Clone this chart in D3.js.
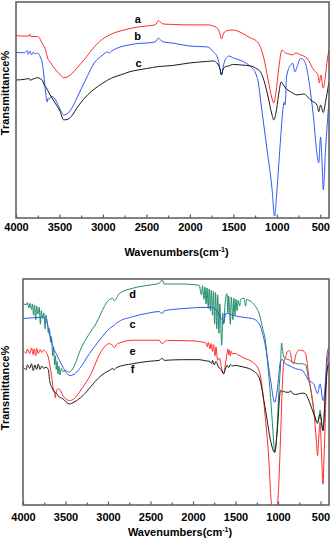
<!DOCTYPE html>
<html>
<head>
<meta charset="utf-8">
<script src="https://cdn.jsdelivr.net/npm/d3@7"></script>
<style>
  body { margin: 0; background: #fff; }
  svg { display: block; font-family: Arial, "Liberation Sans", sans-serif; }
</style>
</head>
<body>
<div id="chart"></div>
<script>
/* CONSTANTS AND GLOBALS */
const width = 331,
  height = 541;

/* DATA: [wavenumber cm-1, transmittance %] */
const majorTicks = [4000, 3500, 3000, 2500, 2000, 1500, 1000, 500];
const minorTicks = [3750, 3250, 2750, 2250, 1750, 1250, 750];

// top panel
const topA = [[4000,84.4],[3900,84.2],[3850,84.3],[3840,85.2],[3830,84.0],[3750,84.0],[3700,81.0],[3660,77.8],[3640,74.5],[3600,71.8],[3560,69.4],[3500,66.7],[3450,65.0],[3400,65.5],[3350,67.1],[3300,69.4],[3200,74.1],[3100,79.2],[3000,82.9],[2900,85.2],[2800,86.6],[2600,88.4],[2500,88.9],[2400,89.4],[2360,91.4],[2340,90.7],[2300,89.8],[2200,89.6],[2000,89.4],[1800,89.4],[1700,88.4],[1660,86.1],[1637,82.9],[1610,85.6],[1580,86.6],[1530,87.0],[1500,87.0],[1400,85.6],[1300,83.3],[1250,82.4],[1200,80.1],[1150,74.1],[1100,63.9],[1060,56.0],[1035,53.2],[1010,58.3],[980,68.5],[950,76.9],[940,77.8],[900,76.4],[860,75.9],[820,75.5],[780,76.4],[727,75.5],[654,74.1],[576,68.5],[530,66.5],[510,62.5],[495,66.2],[466,60.2],[440,66.2],[420,73.1],[400,77.8]];
const topB = [[4000,76.7],[3900,76.5],[3870,77.5],[3860,75.8],[3840,77.3],[3820,75.5],[3800,76.8],[3780,75.9],[3750,76.4],[3720,74.5],[3700,72.2],[3680,66.2],[3660,58.3],[3640,53.7],[3630,55.5],[3620,55.1],[3590,56.3],[3560,55.6],[3500,50.9],[3450,47.7],[3400,48.6],[3350,51.4],[3300,55.6],[3200,63.9],[3100,71.8],[3000,75.5],[2950,76.9],[2930,76.4],[2900,77.3],[2800,79.2],[2700,80.1],[2600,80.8],[2500,81.0],[2400,81.5],[2360,83.3],[2340,82.4],[2300,81.5],[2200,81.0],[2000,79.6],[1800,79.2],[1729,76.9],[1680,74.1],[1660,70.4],[1637,66.2],[1620,69.4],[1600,72.7],[1570,74.5],[1555,75.0],[1500,74.1],[1400,72.7],[1360,71.8],[1300,70.0],[1245,67.1],[1210,62.0],[1187,54.6],[1150,43.1],[1112,31.5],[1054,13.0],[1027,0.9],[996,14.4],[958,36.1],[927,51.4],[915,53.7],[905,52.3],[888,65.3],[843,70.8],[816,71.6],[800,68.5],[793,67.6],[767,70.0],[727,73.9],[690,73.1],[652,68.5],[612,57.9],[575,45.4],[544,31.5],[518,25.5],[497,37.5],[478,23.6],[466,13.0],[440,31.5],[400,54.6]];
const topC = [[4000,63.9],[3900,64.2],[3850,64.6],[3840,63.8],[3800,64.4],[3750,65.0],[3720,64.4],[3700,63.9],[3680,62.0],[3650,60.2],[3620,57.9],[3600,56.5],[3550,53.2],[3500,50.0],[3450,45.4],[3400,45.8],[3350,47.7],[3300,50.9],[3200,56.0],[3100,59.7],[3000,62.5],[2900,64.8],[2800,66.2],[2700,67.6],[2500,69.2],[2360,70.1],[2200,70.6],[2000,71.8],[1800,72.5],[1729,72.7],[1680,71.3],[1650,68.5],[1637,66.2],[1620,68.5],[1600,69.9],[1555,70.4],[1500,71.1],[1400,70.8],[1300,70.4],[1245,69.4],[1187,67.6],[1150,63.9],[1100,56.0],[1060,48.6],[1035,45.4],[1010,48.6],[980,56.9],[950,63.0],[930,62.0],[900,60.2],[843,58.5],[767,57.0],[690,57.4],[612,54.6],[537,52.3],[518,49.2],[497,52.3],[466,48.8],[440,53.8],[400,63.0]];

// bottom panel
const botD = [[4000,89.2],[3960,88.6],[3950,89.6],[3930,87.2],[3920,89.3],[3900,86.5],[3890,89],[3875,84],[3865,88.5],[3850,82],[3840,88],[3825,84.5],[3810,87.5],[3795,80],[3785,86],[3770,82.5],[3755,85],[3740,78],[3730,84],[3712,79.5],[3700,76],[3690,78],[3675,72],[3665,74.5],[3650,66],[3640,70],[3628,62],[3618,66],[3608,60],[3598,63.5],[3588,58],[3578,61.5],[3565,57.5],[3550,60.5],[3530,59],[3500,59.5],[3460,58.8],[3420,60],[3380,63],[3335,67.7],[3218,75.9],[3140,80.3],[3080,85],[3023,89.2],[2944,91.4],[2925,90.4],[2866,93.6],[2710,95.9],[2514,97.3],[2400,98.1],[2362,99.6],[2340,97.8],[2123,97.8],[2000,97.5],[1928,97.2],[1900,93],[1890,97],[1870,91],[1860,96.5],[1845,89],[1835,96],[1820,87],[1810,95.5],[1795,86],[1785,95],[1770,84],[1760,94.5],[1745,80],[1735,94],[1720,78],[1710,93],[1695,76],[1685,89],[1662,70.7],[1650,85],[1640,80],[1620,90],[1600,93.5],[1590,85],[1580,92.5],[1560,80],[1550,92],[1530,82],[1520,91.5],[1505,84],[1495,91],[1480,86],[1470,90.5],[1450,88],[1440,91],[1400,91.5],[1380,88],[1370,91],[1340,90.5],[1300,89.5],[1250,87],[1224,85],[1180,78],[1150,73],[1120,62],[1087,47.5],[1060,33],[1040,23.3],[1020,28],[1009,35],[990,50],[970,62],[958,71.7],[945,68],[931,65.5],[911,64.7],[872,64.3],[833,63.3],[794,62.8],[755,62.5],[716,62.5],[676,62],[637,55.1],[618,52],[579,42],[560,38],[535,35.9],[520,38],[505,42],[490,37],[470,32.9],[455,40],[440,55],[422,59.6],[400,62]];
const botC = [[4000,82.5],[3900,82.8],[3800,83.0],[3765,83.3],[3726,82],[3687,75.9],[3648,70],[3609,67.0],[3531,61],[3453,57.3],[3400,57.8],[3335,60.3],[3218,67.0],[3101,72.9],[2983,78.1],[2925,79.6],[2900,80.5],[2710,83.3],[2514,85.0],[2400,85.6],[2362,84.7],[2340,85.9],[2241,86.5],[2000,87.2],[1928,87.4],[1771,87.4],[1713,85.5],[1680,83],[1650,81.8],[1638,80.5],[1615,84.7],[1595,84.7],[1537,84.0],[1400,83.0],[1302,82.5],[1224,80.3],[1146,69.9],[1087,55.1],[1040,45.5],[1009,50.7],[970,63.7],[950,64.4],[911,62.5],[872,61.8],[794,60.3],[716,59.6],[637,55.1],[579,53.6],[535,49.2],[505,53.6],[470,46.2],[450,50],[422,67.0],[400,70]];
const botE = [[4000,68.4],[3960,67.2],[3950,69],[3920,67],[3900,69.5],[3880,66.5],[3870,69],[3850,66],[3840,69.3],[3820,67],[3800,68.8],[3780,67.5],[3760,68.5],[3726,67.5],[3700,65],[3687,62.5],[3660,56],[3648,52.1],[3629,49.9],[3620,47.5],[3610,50],[3589,51.4],[3570,51.2],[3531,48.5],[3453,46.2],[3400,47],[3335,50],[3296,52.1],[3200,58],[3101,66.5],[3023,70.7],[2983,71.4],[2944,70.5],[2925,69.6],[2900,71],[2866,71.7],[2710,72.9],[2400,72.9],[2362,71.4],[2340,72],[2300,72.8],[2000,72.6],[1850,71.7],[1830,70],[1820,72],[1800,69],[1790,71.5],[1770,68],[1760,71],[1740,66],[1730,70],[1710,64],[1690,65],[1660,60],[1640,58.1],[1620,62],[1600,67.0],[1590,69],[1580,66.5],[1570,68.5],[1560,66],[1550,68],[1537,67],[1500,67],[1459,66.2],[1400,65],[1302,63.3],[1224,59.6],[1146,37.3],[1100,15],[1087,5],[1060,-3],[1040,-5],[1009,-1],[990,10],[970,29.9],[950,52.1],[931,63.5],[911,65.5],[892,67.7],[872,68.4],[852,67],[833,63],[813,62.5],[794,66],[774,67.7],[755,68.6],[735,68.4],[716,68.4],[676,67],[637,56.6],[618,52],[579,41.8],[548,28],[535,21.8],[520,30],[505,36.6],[490,25],[470,9.2],[461,18],[450,29.9],[430,55],[422,62.5],[400,68]];
const botF = [[4000,61.0],[3960,60],[3950,62],[3920,60.5],[3900,62.5],[3880,59.5],[3860,62],[3840,60],[3820,62.3],[3800,60],[3780,61.5],[3760,60.5],[3726,61],[3700,59.6],[3687,55.1],[3660,52],[3629,49.9],[3600,49.2],[3589,48.4],[3531,47.0],[3453,44.7],[3400,45.5],[3296,48.4],[3200,52.5],[3101,56.6],[2983,59.6],[2944,60.3],[2925,59.9],[2900,60.8],[2710,62.5],[2514,63.6],[2400,64],[2362,64.9],[2340,64.0],[2241,64.2],[2123,64.3],[1928,64.3],[1850,63.8],[1800,63.5],[1780,62.5],[1770,64],[1750,62],[1730,63.5],[1700,61],[1670,60],[1640,58.1],[1620,60],[1600,61.8],[1580,60.8],[1560,62.2],[1537,61.5],[1500,61.8],[1459,61.5],[1400,61],[1302,59.6],[1224,56.6],[1146,41.8],[1087,28.4],[1040,23.3],[1009,32.9],[970,50.7],[950,50.0],[931,50.4],[911,49.9],[872,49.9],[850,50.5],[833,49.5],[794,48.9],[755,49.2],[716,49.5],[676,49.2],[637,46.2],[579,40.3],[535,36.6],[505,40.3],[470,32.9],[450,44.7],[422,59.6],[400,63]];

// curve names and where their letters sit [wavenumber, transmittance]
const topNames = ["a", "b", "c"];
const topNameAt = [[2600, 92], [2600, 84.3], [2590, 71.8]];
const botNames = ["d", "c", "e", "f"];
const botNameAt = [[2710, 93.3], [2710, 80], [2710, 68], [2710, 60]];

const colors = { red: "#ff2b2b", blue: "#3358f5", black: "#1a1a1a", green: "#1f8c68" };

const panels = [
  { id: "top", box: { left: 16, right: 329, top: 2, bottom: 218 }, pad: 5, titleY: 256, ylabY: 93,
    series: [topA, topB, topC], colors: [colors.red, colors.blue, colors.black],
    names: topNames, nameAt: topNameAt },
  { id: "bot", box: { left: 23, right: 329, top: 279, bottom: 505 }, pad: 8, titleY: 536, ylabY: 388,
    series: [botD, botC, botE, botF], colors: [colors.green, colors.blue, colors.red, colors.black],
    names: botNames, nameAt: botNameAt }
];

let svg;

function init() {
  svg = d3.select("#chart")
    .append("svg")
    .attr("width", width)
    .attr("height", height);

  panels.forEach(drawPanel);
}

function drawPanel(p) {
  const b = p.box;

  const xScale = d3.scaleLinear()
    .domain([4000, 400])
    .range([b.left, b.right]);

  const yScale = d3.scaleLinear()
    .domain([0, 100])
    .range([b.bottom, b.top]);

  svg.append("clipPath")
    .attr("id", "clip-" + p.id)
    .append("rect")
    .attr("x", b.left)
    .attr("y", b.top)
    .attr("width", b.right - b.left)
    .attr("height", b.bottom - b.top);

  const line = d3.line()
    .x(d => xScale(d[0]))
    .y(d => yScale(d[1]))
    .curve(d3.curveMonotoneX);

  svg.append("g")
    .attr("clip-path", `url(#clip-${p.id})`)
    .selectAll("path")
    .data(p.series)
    .join("path")
    .attr("d", line)
    .attr("fill", "none")
    .attr("stroke", (d, i) => p.colors[i])
    .attr("stroke-width", 1)
    .attr("stroke-linejoin", "round");

  // frame
  svg.append("rect")
    .attr("x", b.left)
    .attr("y", b.top)
    .attr("width", b.right - b.left)
    .attr("height", b.bottom - b.top)
    .attr("fill", "none")
    .attr("stroke", "#5a5a5a")
    .attr("stroke-width", 1.5);

  // minor ticks
  svg.append("g")
    .attr("transform", `translate(0, ${b.bottom})`)
    .call(d3.axisBottom(xScale).tickValues(minorTicks).tickSize(-2.5).tickFormat(""))
    .call(g => g.select(".domain").remove())
    .call(g => g.selectAll("line").attr("stroke", "#5a5a5a").attr("stroke-width", 1.2));

  // major ticks + labels
  svg.append("g")
    .attr("transform", `translate(0, ${b.bottom})`)
    .call(d3.axisBottom(xScale).tickValues(majorTicks).tickSize(-3.5).tickPadding(p.pad).tickFormat(d3.format("d")))
    .call(g => g.select(".domain").remove())
    .call(g => g.selectAll("line").attr("stroke", "#5a5a5a").attr("stroke-width", 1.2))
    .call(g => g.selectAll("text")
      .attr("fill", "#000")
      .attr("font-size", 11)
      .attr("font-weight", "bold")
      .attr("font-family", "Arial, 'Liberation Sans', sans-serif"));

  // x title
  const title = svg.append("text")
    .attr("x", (b.left + b.right) / 2 + 4)
    .attr("y", p.titleY)
    .attr("text-anchor", "middle")
    .attr("font-size", 11)
    .attr("font-weight", "bold")
    .text("Wavenumbers(cm");
  title.append("tspan")
    .attr("font-size", 7)
    .attr("dy", -4)
    .text("-1");
  title.append("tspan")
    .attr("dy", 4)
    .text(")");

  // y title
  svg.append("text")
    .attr("transform", `translate(9, ${p.ylabY}) rotate(-90)`)
    .attr("text-anchor", "middle")
    .attr("font-size", 11)
    .attr("font-weight", "bold")
    .text("Transmittance%");

  // curve letters
  svg.append("g")
    .selectAll("text")
    .data(p.names)
    .join("text")
    .attr("x", (d, i) => xScale(p.nameAt[i][0]))
    .attr("y", (d, i) => yScale(p.nameAt[i][1]))
    .attr("dy", "0.35em")
    .attr("text-anchor", "middle")
    .attr("font-size", 11)
    .attr("font-weight", "bold")
    .text(d => d);
}

init();
</script>
</body>
</html>
